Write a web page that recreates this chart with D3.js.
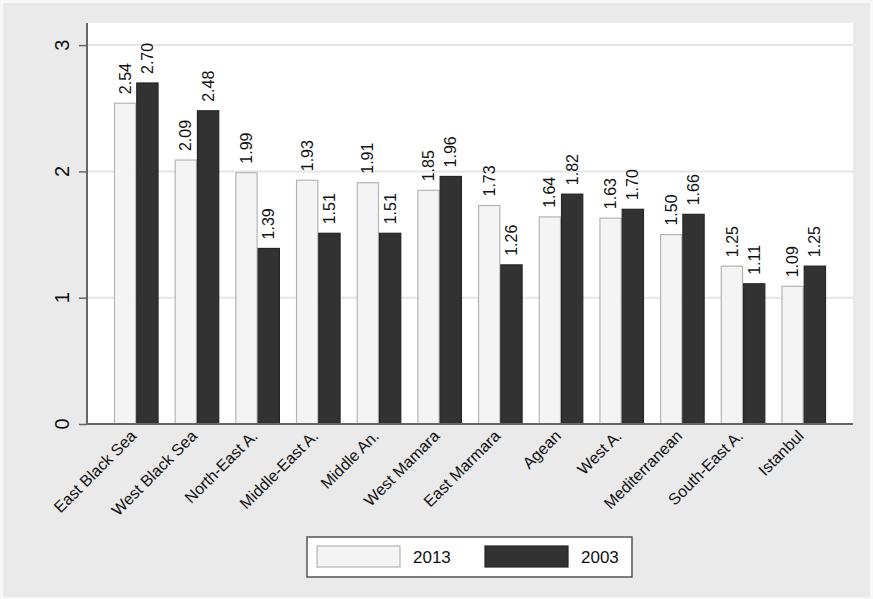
<!DOCTYPE html>
<html><head><meta charset="utf-8">
<script src="https://cdn.jsdelivr.net/npm/d3@7"></script>
<style>body{margin:0;padding:0;}svg{display:block;}text{font-family:Arial,"Liberation Sans",sans-serif;}</style>
</head><body>
<svg id="chart" width="873" height="599"></svg>
<script>
const categories = ["East Black Sea","West Black Sea","North-East A.","Middle-East A.","Middle An.","West Mamara","East Marmara","Agean","West A.","Mediterranean","South-East A.","Istanbul"];
const values2013 = [2.54,2.09,1.99,1.93,1.91,1.85,1.73,1.64,1.63,1.50,1.25,1.09];
const values2003 = [2.70,2.48,1.39,1.51,1.51,1.96,1.26,1.82,1.70,1.66,1.11,1.25];
const seriesNames = ["2013","2003"];
const yTicks = [0,1,2,3];

const svg = d3.select("#chart");
const W = 873, H = 599;
svg.append("rect").attr("width",W).attr("height",H).attr("fill","#f8f8f8");
svg.append("rect").attr("x",3).attr("y",3).attr("width",W-6).attr("height",H-5).attr("fill","#eaeaea");

const plot = {l:87, r:853, t:23, b:424};
svg.append("rect").attr("x",plot.l).attr("y",plot.t).attr("width",plot.r-plot.l).attr("height",plot.b-plot.t).attr("fill","#ffffff");

const y = d3.scaleLinear().domain([0,3]).range([plot.b, plot.b-3*126.3]);
const x0 = d3.scaleBand().domain(categories).range([plot.l, plot.r]).paddingInner(0.266).paddingOuter(0.445);
const x1 = d3.scaleBand().domain(seriesNames).range([0, x0.bandwidth()]);

// gridlines
svg.append("g").selectAll("line").data(yTicks.filter(d=>d>0)).join("line")
  .attr("x1",plot.l).attr("x2",plot.r).attr("y1",d=>y(d)).attr("y2",d=>y(d))
  .attr("stroke","#e6e6e6").attr("stroke-width",2);

const colors = {"2013":{fill:"#f4f4f4",stroke:"#b5b5b5"},"2003":{fill:"#323232",stroke:"#262626"}};
const data = categories.map((c,i)=>({cat:c, vals:[{s:"2013",v:values2013[i]},{s:"2003",v:values2003[i]}]}));

const groups = svg.append("g").selectAll("g").data(data).join("g")
  .attr("transform",d=>`translate(${x0(d.cat)},0)`);
groups.selectAll("rect").data(d=>d.vals).join("rect")
  .attr("x",d=>x1(d.s)+0.5).attr("width",x1.bandwidth()-1)
  .attr("y",d=>y(d.v)).attr("height",d=>y(0)-y(d.v))
  .attr("fill",d=>colors[d.s].fill).attr("stroke",d=>colors[d.s].stroke).attr("stroke-width",1.2);
groups.selectAll("text").data(d=>d.vals).join("text")
  .attr("transform",d=>`translate(${x1(d.s)+x1.bandwidth()/2},${y(d.v)-9}) rotate(-90)`)
  .attr("dy","0.35em").attr("text-anchor","start")
  .attr("font-size",16).attr("fill","#111")
  .text(d=>d.v.toFixed(2));

// y axis
const yAxis = d3.axisLeft(y).tickValues(yTicks).tickSize(8).tickFormat("");
const ya = svg.append("g").attr("transform",`translate(${plot.l},0)`).call(yAxis);
ya.select(".domain").attr("stroke","#666").attr("stroke-width",2).attr("d",`M0,${plot.t}V${plot.b}`);
ya.selectAll(".tick line").attr("stroke","#666").attr("stroke-width",1.5);
svg.append("g").selectAll("text").data(yTicks).join("text")
  .attr("transform",d=>`translate(62,${y(d)}) rotate(-90)`)
  .attr("text-anchor","middle").attr("dy","0.35em")
  .attr("font-size",20).attr("fill","#111").text(d=>d);

// x axis
const xAxis = d3.axisBottom(x0).tickSize(0).tickFormat("");
const xa = svg.append("g").attr("transform",`translate(0,${plot.b})`).call(xAxis);
xa.select(".domain").attr("stroke","#666").attr("stroke-width",2).attr("d",`M${plot.l},0H${plot.r}`);
svg.append("g").selectAll("text").data(categories).join("text")
  .attr("transform",d=>`translate(${x0(d)+x0.bandwidth()/2+1},${plot.b+13}) rotate(-45)`)
  .attr("text-anchor","end")
  .attr("font-size",16).attr("fill","#111").text(d=>d);

// legend
const lg = svg.append("g");
lg.append("rect").attr("x",307).attr("y",537).attr("width",325).attr("height",40)
  .attr("fill","#ffffff").attr("stroke","#555").attr("stroke-width",1.5);
const items = [{s:"2013",sx:317,tx:413},{s:"2003",sx:485,tx:581}];
items.forEach(it=>{
  lg.append("rect").attr("x",it.sx).attr("y",546).attr("width",83).attr("height",21)
    .attr("fill",colors[it.s].fill).attr("stroke",colors[it.s].stroke).attr("stroke-width",1.2);
  lg.append("text").attr("x",it.tx).attr("y",557).attr("dy","0.35em").attr("font-size",17).attr("fill","#111").text(it.s);
});
</script>
</body></html>
